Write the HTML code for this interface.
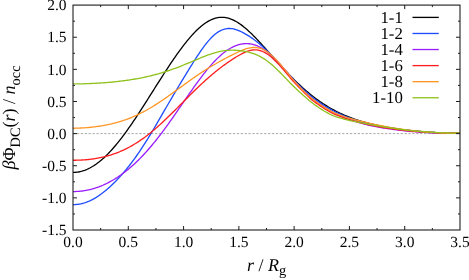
<!DOCTYPE html>
<html><head><meta charset="utf-8"><title>plot</title>
<style>html,body{margin:0;padding:0;background:#fff;overflow:hidden}svg{display:block}text{font-family:"Liberation Serif",serif;fill:#000;text-rendering:geometricPrecision}.i{font-style:italic}</style></head><body>
<svg width="469" height="280" viewBox="0 0 469 280">
<rect x="0" y="0" width="469" height="280" fill="#fff"/>
<defs><filter id="soft" x="0" y="0" width="469" height="280" filterUnits="userSpaceOnUse"><feGaussianBlur stdDeviation="0.3"/></filter></defs>
<g filter="url(#soft)">
<line x1="73.0" y1="133.61" x2="460.0" y2="133.61" stroke="#a8a8a8" stroke-width="1" stroke-dasharray="2.3 1.6"/>
<g fill="none" stroke-width="1.32" stroke-linejoin="round" stroke-linecap="butt">
<path d="M73.00,172.38 L74.29,172.36 L75.59,172.28 L76.88,172.16 L78.18,171.98 L79.47,171.74 L80.77,171.46 L82.06,171.12 L83.35,170.73 L84.65,170.28 L85.94,169.79 L87.24,169.24 L88.53,168.64 L89.83,167.99 L91.12,167.29 L92.41,166.55 L93.71,165.75 L95.00,164.90 L96.30,164.00 L97.59,163.06 L98.89,162.07 L100.18,161.03 L101.47,159.94 L102.77,158.82 L104.06,157.64 L105.36,156.43 L106.65,155.17 L107.95,153.87 L109.24,152.53 L110.54,151.15 L111.83,149.73 L113.12,148.27 L114.42,146.78 L115.71,145.25 L117.01,143.68 L118.30,142.09 L119.60,140.46 L120.89,138.79 L122.18,137.10 L123.48,135.38 L124.77,133.63 L126.07,131.86 L127.36,130.06 L128.66,128.23 L129.95,126.38 L131.24,124.51 L132.54,122.62 L133.83,120.71 L135.13,118.78 L136.42,116.83 L137.72,114.87 L139.01,112.89 L140.30,110.90 L141.60,108.90 L142.89,106.88 L144.19,104.86 L145.48,102.83 L146.78,100.80 L148.07,98.75 L149.36,96.71 L150.66,94.66 L151.95,92.60 L153.25,90.55 L154.54,88.50 L155.84,86.45 L157.13,84.40 L158.42,82.36 L159.72,80.32 L161.01,78.29 L162.31,76.27 L163.60,74.26 L164.90,72.26 L166.19,70.27 L167.48,68.29 L168.78,66.33 L170.07,64.39 L171.37,62.46 L172.66,60.55 L173.96,58.66 L175.25,56.79 L176.55,54.95 L177.84,53.13 L179.13,51.33 L180.43,49.57 L181.72,47.83 L183.02,46.12 L184.31,44.44 L185.61,42.80 L186.90,41.19 L188.19,39.62 L189.49,38.08 L190.78,36.59 L192.08,35.14 L193.37,33.73 L194.67,32.37 L195.96,31.05 L197.25,29.78 L198.55,28.57 L199.84,27.41 L201.14,26.30 L202.43,25.25 L203.73,24.25 L205.02,23.32 L206.31,22.45 L207.61,21.64 L208.90,20.90 L210.20,20.23 L211.49,19.62 L212.79,19.08 L214.08,18.61 L215.37,18.21 L216.67,17.89 L217.96,17.63 L219.26,17.45 L220.55,17.34 L221.85,17.31 L223.14,17.34 L224.43,17.45 L225.73,17.64 L227.02,17.89 L228.32,18.21 L229.61,18.60 L230.91,19.05 L232.20,19.58 L233.49,20.16 L234.79,20.81 L236.08,21.52 L237.38,22.28 L238.67,23.10 L239.97,23.98 L241.26,24.90 L242.56,25.88 L243.85,26.90 L245.14,27.96 L246.44,29.07 L247.73,30.21 L249.03,31.39 L250.32,32.61 L251.62,33.85 L252.91,35.13 L254.20,36.43 L255.50,37.76 L256.79,39.10 L258.09,40.47 L259.38,41.86 L260.68,43.26 L261.97,44.67 L263.26,46.09 L264.56,47.53 L265.85,48.97 L267.15,50.42 L268.44,51.87 L269.74,53.33 L271.03,54.78 L272.32,56.24 L273.62,57.69 L274.91,59.15 L276.21,60.59 L277.50,62.04 L278.80,63.47 L280.09,64.90 L281.38,66.32 L282.68,67.73 L283.97,69.13 L285.27,70.51 L286.56,71.89 L287.86,73.25 L289.15,74.60 L290.44,75.94 L291.74,77.25 L293.03,78.56 L294.33,79.85 L295.62,81.12 L296.92,82.37 L298.21,83.61 L299.51,84.82 L300.80,86.02 L302.09,87.21 L303.39,88.37 L304.68,89.51 L305.98,90.63 L307.27,91.74 L308.57,92.82 L309.86,93.89 L311.15,94.93 L312.45,95.96 L313.74,96.96 L315.04,97.95 L316.33,98.92 L317.63,99.86 L318.92,100.79 L320.21,101.69 L321.51,102.58 L322.80,103.44 L324.10,104.29 L325.39,105.12 L326.69,105.93 L327.98,106.71 L329.27,107.48 L330.57,108.24 L331.86,108.97 L333.16,109.68 L334.45,110.38 L335.75,111.06 L337.04,111.72 L338.33,112.37 L339.63,112.99 L340.92,113.61 L342.22,114.20 L343.51,114.78 L344.81,115.34 L346.10,115.89 L347.39,116.42 L348.69,116.94 L349.98,117.45 L351.28,117.94 L352.57,118.41 L353.87,118.88 L355.16,119.33 L356.45,119.77 L357.75,120.19 L359.04,120.61 L360.34,121.01 L361.63,121.40 L362.93,121.78 L364.22,122.15 L365.52,122.51 L366.81,122.86 L368.10,123.20 L369.40,123.53 L370.69,123.86 L371.99,124.17 L373.28,124.48 L374.58,124.77 L375.87,125.06 L377.16,125.35 L378.46,125.62 L379.75,125.89 L381.05,126.15 L382.34,126.41 L383.64,126.65 L384.93,126.89 L386.22,127.13 L387.52,127.36 L388.81,127.58 L390.11,127.80 L391.40,128.02 L392.70,128.22 L393.99,128.43 L395.28,128.62 L396.58,128.82 L397.87,129.00 L399.17,129.19 L400.46,129.36 L401.76,129.54 L403.05,129.71 L404.34,129.87 L405.64,130.03 L406.93,130.19 L408.23,130.34 L409.52,130.49 L410.82,130.63 L412.11,130.77 L413.40,130.90 L414.70,131.03 L415.99,131.16 L417.29,131.28 L418.58,131.40 L419.88,131.51 L421.17,131.62 L422.46,131.73 L423.76,131.83 L425.05,131.93 L426.35,132.02 L427.64,132.11 L428.94,132.20 L430.23,132.29 L431.53,132.36 L432.82,132.44 L434.11,132.51 L435.41,132.58 L436.70,132.65 L438.00,132.71 L439.29,132.77 L440.59,132.82 L441.88,132.87 L443.17,132.92 L444.47,132.97 L445.76,133.01 L447.06,133.05 L448.35,133.08 L449.65,133.11 L450.94,133.14 L452.23,133.17 L453.53,133.20 L454.82,133.22 L456.12,133.24 L457.41,133.25 L458.71,133.27 L460.00,133.28" stroke="#000000"/>
<path d="M73.00,204.55 L74.29,204.54 L75.59,204.48 L76.88,204.38 L78.18,204.23 L79.47,204.04 L80.77,203.80 L82.06,203.51 L83.35,203.17 L84.65,202.79 L85.94,202.37 L87.24,201.89 L88.53,201.37 L89.83,200.81 L91.12,200.20 L92.41,199.55 L93.71,198.85 L95.00,198.12 L96.30,197.34 L97.59,196.51 L98.89,195.65 L100.18,194.75 L101.47,193.82 L102.77,192.84 L104.06,191.83 L105.36,190.78 L106.65,189.70 L107.95,188.58 L109.24,187.43 L110.54,186.25 L111.83,185.04 L113.12,183.79 L114.42,182.51 L115.71,181.20 L117.01,179.86 L118.30,178.49 L119.60,177.08 L120.89,175.65 L122.18,174.19 L123.48,172.69 L124.77,171.16 L126.07,169.61 L127.36,168.02 L128.66,166.40 L129.95,164.74 L131.24,163.06 L132.54,161.34 L133.83,159.60 L135.13,157.81 L136.42,156.00 L137.72,154.16 L139.01,152.28 L140.30,150.37 L141.60,148.43 L142.89,146.46 L144.19,144.46 L145.48,142.43 L146.78,140.38 L148.07,138.29 L149.36,136.18 L150.66,134.05 L151.95,131.90 L153.25,129.73 L154.54,127.54 L155.84,125.34 L157.13,123.12 L158.42,120.90 L159.72,118.66 L161.01,116.43 L162.31,114.19 L163.60,111.94 L164.90,109.70 L166.19,107.47 L167.48,105.24 L168.78,103.01 L170.07,100.79 L171.37,98.58 L172.66,96.38 L173.96,94.18 L175.25,91.99 L176.55,89.82 L177.84,87.65 L179.13,85.48 L180.43,83.33 L181.72,81.18 L183.02,79.04 L184.31,76.91 L185.61,74.79 L186.90,72.67 L188.19,70.57 L189.49,68.47 L190.78,66.39 L192.08,64.32 L193.37,62.27 L194.67,60.23 L195.96,58.22 L197.25,56.23 L198.55,54.28 L199.84,52.36 L201.14,50.47 L202.43,48.64 L203.73,46.85 L205.02,45.13 L206.31,43.46 L207.61,41.87 L208.90,40.35 L210.20,38.90 L211.49,37.54 L212.79,36.27 L214.08,35.08 L215.37,33.99 L216.67,33.00 L217.96,32.10 L219.26,31.30 L220.55,30.60 L221.85,30.00 L223.14,29.51 L224.43,29.11 L225.73,28.81 L227.02,28.61 L228.32,28.50 L229.61,28.49 L230.91,28.56 L232.20,28.72 L233.49,28.95 L234.79,29.26 L236.08,29.64 L237.38,30.09 L238.67,30.59 L239.97,31.15 L241.26,31.75 L242.56,32.40 L243.85,33.09 L245.14,33.81 L246.44,34.57 L247.73,35.35 L249.03,36.17 L250.32,37.01 L251.62,37.88 L252.91,38.79 L254.20,39.72 L255.50,40.69 L256.79,41.69 L258.09,42.73 L259.38,43.81 L260.68,44.92 L261.97,46.06 L263.26,47.24 L264.56,48.45 L265.85,49.69 L267.15,50.97 L268.44,52.27 L269.74,53.59 L271.03,54.94 L272.32,56.31 L273.62,57.70 L274.91,59.11 L276.21,60.52 L277.50,61.95 L278.80,63.38 L280.09,64.82 L281.38,66.26 L282.68,67.70 L283.97,69.14 L285.27,70.57 L286.56,72.00 L287.86,73.44 L289.15,74.86 L290.44,76.28 L291.74,77.69 L293.03,79.08 L294.33,80.46 L295.62,81.81 L296.92,83.15 L298.21,84.45 L299.51,85.74 L300.80,87.00 L302.09,88.24 L303.39,89.45 L304.68,90.65 L305.98,91.82 L307.27,92.97 L308.57,94.09 L309.86,95.18 L311.15,96.23 L312.45,97.26 L313.74,98.26 L315.04,99.25 L316.33,100.21 L317.63,101.15 L318.92,102.07 L320.21,102.96 L321.51,103.84 L322.80,104.70 L324.10,105.53 L325.39,106.35 L326.69,107.15 L327.98,107.92 L329.27,108.68 L330.57,109.41 L331.86,110.11 L333.16,110.79 L334.45,111.44 L335.75,112.07 L337.04,112.68 L338.33,113.28 L339.63,113.86 L340.92,114.43 L342.22,114.99 L343.51,115.53 L344.81,116.06 L346.10,116.58 L347.39,117.08 L348.69,117.57 L349.98,118.04 L351.28,118.50 L352.57,118.95 L353.87,119.39 L355.16,119.82 L356.45,120.23 L357.75,120.63 L359.04,121.03 L360.34,121.41 L361.63,121.78 L362.93,122.14 L364.22,122.49 L365.52,122.83 L366.81,123.17 L368.10,123.50 L369.40,123.81 L370.69,124.12 L371.99,124.42 L373.28,124.71 L374.58,125.00 L375.87,125.28 L377.16,125.55 L378.46,125.81 L379.75,126.07 L381.05,126.32 L382.34,126.56 L383.64,126.80 L384.93,127.04 L386.22,127.26 L387.52,127.48 L388.81,127.70 L390.11,127.91 L391.40,128.12 L392.70,128.32 L393.99,128.52 L395.28,128.71 L396.58,128.89 L397.87,129.07 L399.17,129.25 L400.46,129.42 L401.76,129.59 L403.05,129.75 L404.34,129.91 L405.64,130.06 L406.93,130.21 L408.23,130.36 L409.52,130.50 L410.82,130.64 L412.11,130.78 L413.40,130.91 L414.70,131.04 L415.99,131.16 L417.29,131.28 L418.58,131.40 L419.88,131.51 L421.17,131.62 L422.46,131.73 L423.76,131.83 L425.05,131.93 L426.35,132.02 L427.64,132.11 L428.94,132.20 L430.23,132.29 L431.53,132.36 L432.82,132.44 L434.11,132.51 L435.41,132.58 L436.70,132.65 L438.00,132.71 L439.29,132.77 L440.59,132.82 L441.88,132.87 L443.17,132.92 L444.47,132.97 L445.76,133.01 L447.06,133.05 L448.35,133.08 L449.65,133.11 L450.94,133.14 L452.23,133.17 L453.53,133.20 L454.82,133.22 L456.12,133.24 L457.41,133.25 L458.71,133.27 L460.00,133.28" stroke="#1f4dff"/>
<path d="M73.00,191.55 L74.29,191.55 L75.59,191.52 L76.88,191.46 L78.18,191.38 L79.47,191.28 L80.77,191.15 L82.06,191.00 L83.35,190.83 L84.65,190.63 L85.94,190.41 L87.24,190.16 L88.53,189.89 L89.83,189.59 L91.12,189.27 L92.41,188.92 L93.71,188.55 L95.00,188.16 L96.30,187.74 L97.59,187.29 L98.89,186.82 L100.18,186.32 L101.47,185.80 L102.77,185.26 L104.06,184.69 L105.36,184.09 L106.65,183.47 L107.95,182.82 L109.24,182.15 L110.54,181.45 L111.83,180.72 L113.12,179.97 L114.42,179.20 L115.71,178.39 L117.01,177.57 L118.30,176.71 L119.60,175.83 L120.89,174.92 L122.18,173.99 L123.48,173.03 L124.77,172.04 L126.07,171.03 L127.36,169.99 L128.66,168.92 L129.95,167.83 L131.24,166.71 L132.54,165.57 L133.83,164.39 L135.13,163.19 L136.42,161.97 L137.72,160.71 L139.01,159.43 L140.30,158.13 L141.60,156.80 L142.89,155.44 L144.19,154.05 L145.48,152.64 L146.78,151.21 L148.07,149.75 L149.36,148.26 L150.66,146.75 L151.95,145.21 L153.25,143.65 L154.54,142.07 L155.84,140.47 L157.13,138.84 L158.42,137.19 L159.72,135.52 L161.01,133.83 L162.31,132.11 L163.60,130.38 L164.90,128.64 L166.19,126.87 L167.48,125.09 L168.78,123.29 L170.07,121.48 L171.37,119.65 L172.66,117.82 L173.96,115.97 L175.25,114.11 L176.55,112.24 L177.84,110.37 L179.13,108.49 L180.43,106.61 L181.72,104.73 L183.02,102.84 L184.31,100.96 L185.61,99.08 L186.90,97.20 L188.19,95.33 L189.49,93.46 L190.78,91.61 L192.08,89.76 L193.37,87.93 L194.67,86.12 L195.96,84.32 L197.25,82.53 L198.55,80.77 L199.84,79.03 L201.14,77.31 L202.43,75.62 L203.73,73.95 L205.02,72.31 L206.31,70.70 L207.61,69.13 L208.90,67.58 L210.20,66.08 L211.49,64.61 L212.79,63.18 L214.08,61.79 L215.37,60.44 L216.67,59.13 L217.96,57.87 L219.26,56.65 L220.55,55.48 L221.85,54.36 L223.14,53.29 L224.43,52.27 L225.73,51.31 L227.02,50.39 L228.32,49.54 L229.61,48.73 L230.91,47.99 L232.20,47.29 L233.49,46.66 L234.79,46.09 L236.08,45.57 L237.38,45.12 L238.67,44.72 L239.97,44.39 L241.26,44.11 L242.56,43.90 L243.85,43.75 L245.14,43.66 L246.44,43.63 L247.73,43.67 L249.03,43.77 L250.32,43.93 L251.62,44.16 L252.91,44.45 L254.20,44.80 L255.50,45.22 L256.79,45.70 L258.09,46.25 L259.38,46.86 L260.68,47.54 L261.97,48.27 L263.26,49.07 L264.56,49.93 L265.85,50.85 L267.15,51.83 L268.44,52.87 L269.74,53.96 L271.03,55.10 L272.32,56.29 L273.62,57.53 L274.91,58.81 L276.21,60.13 L277.50,61.49 L278.80,62.88 L280.09,64.30 L281.38,65.74 L282.68,67.21 L283.97,68.70 L285.27,70.20 L286.56,71.73 L287.86,73.28 L289.15,74.85 L290.44,76.42 L291.74,77.98 L293.03,79.53 L294.33,81.05 L295.62,82.54 L296.92,83.99 L298.21,85.40 L299.51,86.77 L300.80,88.12 L302.09,89.45 L303.39,90.76 L304.68,92.04 L305.98,93.29 L307.27,94.50 L308.57,95.67 L309.86,96.80 L311.15,97.88 L312.45,98.91 L313.74,99.91 L315.04,100.90 L316.33,101.86 L317.63,102.80 L318.92,103.73 L320.21,104.63 L321.51,105.51 L322.80,106.37 L324.10,107.21 L325.39,108.04 L326.69,108.84 L327.98,109.62 L329.27,110.38 L330.57,111.11 L331.86,111.81 L333.16,112.48 L334.45,113.12 L335.75,113.73 L337.04,114.33 L338.33,114.91 L339.63,115.48 L340.92,116.03 L342.22,116.58 L343.51,117.12 L344.81,117.63 L346.10,118.14 L347.39,118.63 L348.69,119.10 L349.98,119.57 L351.28,120.02 L352.57,120.46 L353.87,120.89 L355.16,121.32 L356.45,121.73 L357.75,122.14 L359.04,122.53 L360.34,122.92 L361.63,123.29 L362.93,123.65 L364.22,124.01 L365.52,124.35 L366.81,124.67 L368.10,124.99 L369.40,125.29 L370.69,125.58 L371.99,125.86 L373.28,126.13 L374.58,126.39 L375.87,126.64 L377.16,126.88 L378.46,127.11 L379.75,127.34 L381.05,127.56 L382.34,127.77 L383.64,127.98 L384.93,128.18 L386.22,128.38 L387.52,128.57 L388.81,128.76 L390.11,128.94 L391.40,129.12 L392.70,129.30 L393.99,129.48 L395.28,129.65 L396.58,129.81 L397.87,129.98 L399.17,130.13 L400.46,130.29 L401.76,130.44 L403.05,130.58 L404.34,130.72 L405.64,130.86 L406.93,130.99 L408.23,131.12 L409.52,131.25 L410.82,131.37 L412.11,131.49 L413.40,131.60 L414.70,131.71 L415.99,131.82 L417.29,131.92 L418.58,132.02 L419.88,132.11 L421.17,132.20 L422.46,132.29 L423.76,132.38 L425.05,132.46 L426.35,132.53 L427.64,132.60 L428.94,132.67 L430.23,132.74 L431.53,132.80 L432.82,132.86 L434.11,132.91 L435.41,132.96 L436.70,133.01 L438.00,133.06 L439.29,133.10 L440.59,133.14 L441.88,133.17 L443.17,133.20 L444.47,133.23 L445.76,133.26 L447.06,133.28 L448.35,133.30 L449.65,133.32 L450.94,133.34 L452.23,133.35 L453.53,133.36 L454.82,133.37 L456.12,133.38 L457.41,133.38 L458.71,133.38 L460.00,133.38" stroke="#9b1fff"/>
<path d="M73.00,160.24 L74.29,160.24 L75.59,160.23 L76.88,160.21 L78.18,160.17 L79.47,160.13 L80.77,160.07 L82.06,160.00 L83.35,159.92 L84.65,159.83 L85.94,159.72 L87.24,159.60 L88.53,159.47 L89.83,159.32 L91.12,159.17 L92.41,159.00 L93.71,158.81 L95.00,158.61 L96.30,158.40 L97.59,158.17 L98.89,157.93 L100.18,157.67 L101.47,157.39 L102.77,157.10 L104.06,156.80 L105.36,156.48 L106.65,156.14 L107.95,155.78 L109.24,155.41 L110.54,155.01 L111.83,154.60 L113.12,154.17 L114.42,153.73 L115.71,153.26 L117.01,152.77 L118.30,152.27 L119.60,151.74 L120.89,151.19 L122.18,150.63 L123.48,150.04 L124.77,149.43 L126.07,148.80 L127.36,148.14 L128.66,147.47 L129.95,146.77 L131.24,146.06 L132.54,145.32 L133.83,144.55 L135.13,143.77 L136.42,142.96 L137.72,142.14 L139.01,141.29 L140.30,140.41 L141.60,139.52 L142.89,138.60 L144.19,137.67 L145.48,136.71 L146.78,135.73 L148.07,134.73 L149.36,133.71 L150.66,132.67 L151.95,131.61 L153.25,130.53 L154.54,129.43 L155.84,128.32 L157.13,127.18 L158.42,126.04 L159.72,124.87 L161.01,123.69 L162.31,122.50 L163.60,121.29 L164.90,120.07 L166.19,118.84 L167.48,117.59 L168.78,116.34 L170.07,115.08 L171.37,113.81 L172.66,112.53 L173.96,111.24 L175.25,109.95 L176.55,108.65 L177.84,107.35 L179.13,106.05 L180.43,104.74 L181.72,103.44 L183.02,102.13 L184.31,100.83 L185.61,99.52 L186.90,98.22 L188.19,96.92 L189.49,95.63 L190.78,94.34 L192.08,93.06 L193.37,91.79 L194.67,90.52 L195.96,89.26 L197.25,88.02 L198.55,86.78 L199.84,85.55 L201.14,84.33 L202.43,83.13 L203.73,81.94 L205.02,80.76 L206.31,79.59 L207.61,78.44 L208.90,77.31 L210.20,76.18 L211.49,75.08 L212.79,73.99 L214.08,72.91 L215.37,71.85 L216.67,70.81 L217.96,69.78 L219.26,68.77 L220.55,67.77 L221.85,66.79 L223.14,65.83 L224.43,64.88 L225.73,63.95 L227.02,63.03 L228.32,62.12 L229.61,61.23 L230.91,60.36 L232.20,59.50 L233.49,58.66 L234.79,57.84 L236.08,57.04 L237.38,56.25 L238.67,55.50 L239.97,54.77 L241.26,54.07 L242.56,53.41 L243.85,52.79 L245.14,52.21 L246.44,51.68 L247.73,51.21 L249.03,50.80 L250.32,50.46 L251.62,50.19 L252.91,50.01 L254.20,49.90 L255.50,49.89 L256.79,49.96 L258.09,50.13 L259.38,50.39 L260.68,50.75 L261.97,51.20 L263.26,51.75 L264.56,52.39 L265.85,53.12 L267.15,53.93 L268.44,54.83 L269.74,55.80 L271.03,56.85 L272.32,57.97 L273.62,59.16 L274.91,60.40 L276.21,61.70 L277.50,63.04 L278.80,64.42 L280.09,65.84 L281.38,67.29 L282.68,68.76 L283.97,70.25 L285.27,71.77 L286.56,73.32 L287.86,74.88 L289.15,76.44 L290.44,77.98 L291.74,79.49 L293.03,80.97 L294.33,82.40 L295.62,83.80 L296.92,85.16 L298.21,86.48 L299.51,87.78 L300.80,89.09 L302.09,90.41 L303.39,91.75 L304.68,93.07 L305.98,94.37 L307.27,95.64 L308.57,96.86 L309.86,98.03 L311.15,99.13 L312.45,100.16 L313.74,101.16 L315.04,102.14 L316.33,103.10 L317.63,104.03 L318.92,104.95 L320.21,105.84 L321.51,106.71 L322.80,107.55 L324.10,108.38 L325.39,109.18 L326.69,109.97 L327.98,110.73 L329.27,111.47 L330.57,112.18 L331.86,112.84 L333.16,113.46 L334.45,114.05 L335.75,114.61 L337.04,115.15 L338.33,115.67 L339.63,116.17 L340.92,116.67 L342.22,117.16 L343.51,117.63 L344.81,118.09 L346.10,118.53 L347.39,118.95 L348.69,119.36 L349.98,119.76 L351.28,120.15 L352.57,120.54 L353.87,120.92 L355.16,121.29 L356.45,121.66 L357.75,122.01 L359.04,122.36 L360.34,122.70 L361.63,123.03 L362.93,123.36 L364.22,123.67 L365.52,123.98 L366.81,124.28 L368.10,124.58 L369.40,124.86 L370.69,125.14 L371.99,125.41 L373.28,125.67 L374.58,125.93 L375.87,126.17 L377.16,126.42 L378.46,126.65 L379.75,126.88 L381.05,127.10 L382.34,127.32 L383.64,127.54 L384.93,127.75 L386.22,127.95 L387.52,128.15 L388.81,128.34 L390.11,128.54 L391.40,128.72 L392.70,128.91 L393.99,129.08 L395.28,129.26 L396.58,129.43 L397.87,129.59 L399.17,129.75 L400.46,129.91 L401.76,130.06 L403.05,130.21 L404.34,130.36 L405.64,130.50 L406.93,130.64 L408.23,130.77 L409.52,130.90 L410.82,131.03 L412.11,131.15 L413.40,131.27 L414.70,131.38 L415.99,131.50 L417.29,131.60 L418.58,131.71 L419.88,131.81 L421.17,131.91 L422.46,132.01 L423.76,132.10 L425.05,132.18 L426.35,132.27 L427.64,132.35 L428.94,132.42 L430.23,132.50 L431.53,132.57 L432.82,132.63 L434.11,132.69 L435.41,132.75 L436.70,132.81 L438.00,132.86 L439.29,132.91 L440.59,132.96 L441.88,133.00 L443.17,133.04 L444.47,133.08 L445.76,133.11 L447.06,133.14 L448.35,133.17 L449.65,133.20 L450.94,133.22 L452.23,133.24 L453.53,133.26 L454.82,133.28 L456.12,133.30 L457.41,133.31 L458.71,133.32 L460.00,133.33" stroke="#ff1f1f"/>
<path d="M73.00,128.24 L74.29,128.23 L75.59,128.20 L76.88,128.17 L78.18,128.13 L79.47,128.08 L80.77,128.02 L82.06,127.95 L83.35,127.87 L84.65,127.79 L85.94,127.69 L87.24,127.59 L88.53,127.48 L89.83,127.36 L91.12,127.23 L92.41,127.09 L93.71,126.94 L95.00,126.79 L96.30,126.62 L97.59,126.44 L98.89,126.26 L100.18,126.06 L101.47,125.85 L102.77,125.63 L104.06,125.40 L105.36,125.16 L106.65,124.91 L107.95,124.64 L109.24,124.37 L110.54,124.08 L111.83,123.78 L113.12,123.46 L114.42,123.13 L115.71,122.79 L117.01,122.44 L118.30,122.07 L119.60,121.68 L120.89,121.28 L122.18,120.87 L123.48,120.44 L124.77,120.00 L126.07,119.54 L127.36,119.07 L128.66,118.58 L129.95,118.07 L131.24,117.55 L132.54,117.01 L133.83,116.45 L135.13,115.88 L136.42,115.29 L137.72,114.69 L139.01,114.07 L140.30,113.43 L141.60,112.78 L142.89,112.11 L144.19,111.42 L145.48,110.72 L146.78,110.00 L148.07,109.27 L149.36,108.52 L150.66,107.76 L151.95,106.99 L153.25,106.19 L154.54,105.39 L155.84,104.57 L157.13,103.74 L158.42,102.90 L159.72,102.05 L161.01,101.18 L162.31,100.31 L163.60,99.42 L164.90,98.53 L166.19,97.63 L167.48,96.72 L168.78,95.80 L170.07,94.88 L171.37,93.95 L172.66,93.02 L173.96,92.08 L175.25,91.14 L176.55,90.20 L177.84,89.25 L179.13,88.31 L180.43,87.36 L181.72,86.42 L183.02,85.48 L184.31,84.54 L185.61,83.60 L186.90,82.66 L188.19,81.73 L189.49,80.80 L190.78,79.88 L192.08,78.97 L193.37,78.06 L194.67,77.16 L195.96,76.26 L197.25,75.38 L198.55,74.50 L199.84,73.63 L201.14,72.77 L202.43,71.92 L203.73,71.08 L205.02,70.25 L206.31,69.43 L207.61,68.61 L208.90,67.81 L210.20,67.02 L211.49,66.24 L212.79,65.47 L214.08,64.71 L215.37,63.96 L216.67,63.22 L217.96,62.48 L219.26,61.76 L220.55,61.04 L221.85,60.33 L223.14,59.63 L224.43,58.93 L225.73,58.24 L227.02,57.56 L228.32,56.88 L229.61,56.21 L230.91,55.54 L232.20,54.88 L233.49,54.24 L234.79,53.60 L236.08,52.97 L237.38,52.36 L238.67,51.76 L239.97,51.19 L241.26,50.64 L242.56,50.11 L243.85,49.61 L245.14,49.16 L246.44,48.74 L247.73,48.37 L249.03,48.06 L250.32,47.80 L251.62,47.61 L252.91,47.49 L254.20,47.45 L255.50,47.48 L256.79,47.59 L258.09,47.80 L259.38,48.09 L260.68,48.47 L261.97,48.94 L263.26,49.50 L264.56,50.16 L265.85,50.90 L267.15,51.74 L268.44,52.66 L269.74,53.66 L271.03,54.74 L272.32,55.90 L273.62,57.12 L274.91,58.41 L276.21,59.75 L277.50,61.15 L278.80,62.58 L280.09,64.05 L281.38,65.55 L282.68,67.07 L283.97,68.61 L285.27,70.17 L286.56,71.74 L287.86,73.33 L289.15,74.93 L290.44,76.51 L291.74,78.07 L293.03,79.61 L294.33,81.12 L295.62,82.59 L296.92,84.03 L298.21,85.42 L299.51,86.78 L300.80,88.13 L302.09,89.45 L303.39,90.76 L304.68,92.04 L305.98,93.29 L307.27,94.50 L308.57,95.67 L309.86,96.80 L311.15,97.88 L312.45,98.91 L313.74,99.91 L315.04,100.89 L316.33,101.84 L317.63,102.78 L318.92,103.68 L320.21,104.57 L321.51,105.44 L322.80,106.28 L324.10,107.10 L325.39,107.90 L326.69,108.68 L327.98,109.44 L329.27,110.17 L330.57,110.88 L331.86,111.54 L333.16,112.18 L334.45,112.79 L335.75,113.37 L337.04,113.92 L338.33,114.46 L339.63,114.97 L340.92,115.47 L342.22,115.96 L343.51,116.42 L344.81,116.85 L346.10,117.26 L347.39,117.64 L348.69,118.02 L349.98,118.38 L351.28,118.73 L352.57,119.08 L353.87,119.43 L355.16,119.78 L356.45,120.11 L357.75,120.43 L359.04,120.74 L360.34,121.04 L361.63,121.34 L362.93,121.64 L364.22,121.94 L365.52,122.25 L366.81,122.57 L368.10,122.90 L369.40,123.22 L370.69,123.53 L371.99,123.84 L373.28,124.13 L374.58,124.42 L375.87,124.71 L377.16,124.98 L378.46,125.25 L379.75,125.51 L381.05,125.77 L382.34,126.02 L383.64,126.26 L384.93,126.50 L386.22,126.74 L387.52,126.96 L388.81,127.19 L390.11,127.40 L391.40,127.62 L392.70,127.82 L393.99,128.03 L395.28,128.23 L396.58,128.43 L397.87,128.62 L399.17,128.81 L400.46,129.00 L401.76,129.18 L403.05,129.36 L404.34,129.54 L405.64,129.71 L406.93,129.88 L408.23,130.04 L409.52,130.20 L410.82,130.35 L412.11,130.50 L413.40,130.65 L414.70,130.79 L415.99,130.93 L417.29,131.06 L418.58,131.19 L419.88,131.31 L421.17,131.43 L422.46,131.54 L423.76,131.65 L425.05,131.76 L426.35,131.86 L427.64,131.96 L428.94,132.05 L430.23,132.14 L431.53,132.23 L432.82,132.31 L434.11,132.39 L435.41,132.47 L436.70,132.54 L438.00,132.61 L439.29,132.67 L440.59,132.73 L441.88,132.79 L443.17,132.85 L444.47,132.90 L445.76,132.95 L447.06,132.99 L448.35,133.03 L449.65,133.07 L450.94,133.11 L452.23,133.14 L453.53,133.17 L454.82,133.20 L456.12,133.22 L457.41,133.24 L458.71,133.27 L460.00,133.28" stroke="#ff9626"/>
<path d="M73.00,83.92 L74.29,83.92 L75.59,83.91 L76.88,83.90 L78.18,83.89 L79.47,83.87 L80.77,83.84 L82.06,83.82 L83.35,83.79 L84.65,83.75 L85.94,83.71 L87.24,83.67 L88.53,83.62 L89.83,83.57 L91.12,83.52 L92.41,83.46 L93.71,83.40 L95.00,83.33 L96.30,83.26 L97.59,83.19 L98.89,83.11 L100.18,83.03 L101.47,82.94 L102.77,82.85 L104.06,82.76 L105.36,82.66 L106.65,82.55 L107.95,82.45 L109.24,82.33 L110.54,82.22 L111.83,82.09 L113.12,81.97 L114.42,81.84 L115.71,81.70 L117.01,81.56 L118.30,81.41 L119.60,81.26 L120.89,81.11 L122.18,80.94 L123.48,80.78 L124.77,80.61 L126.07,80.43 L127.36,80.24 L128.66,80.05 L129.95,79.86 L131.24,79.66 L132.54,79.45 L133.83,79.24 L135.13,79.01 L136.42,78.79 L137.72,78.55 L139.01,78.31 L140.30,78.07 L141.60,77.81 L142.89,77.55 L144.19,77.28 L145.48,77.00 L146.78,76.72 L148.07,76.43 L149.36,76.13 L150.66,75.82 L151.95,75.50 L153.25,75.17 L154.54,74.84 L155.84,74.50 L157.13,74.14 L158.42,73.78 L159.72,73.41 L161.01,73.03 L162.31,72.64 L163.60,72.25 L164.90,71.84 L166.19,71.42 L167.48,71.00 L168.78,70.57 L170.07,70.12 L171.37,69.67 L172.66,69.21 L173.96,68.74 L175.25,68.27 L176.55,67.78 L177.84,67.29 L179.13,66.79 L180.43,66.29 L181.72,65.77 L183.02,65.25 L184.31,64.73 L185.61,64.20 L186.90,63.67 L188.19,63.13 L189.49,62.59 L190.78,62.04 L192.08,61.50 L193.37,60.95 L194.67,60.41 L195.96,59.86 L197.25,59.32 L198.55,58.78 L199.84,58.24 L201.14,57.71 L202.43,57.19 L203.73,56.67 L205.02,56.17 L206.31,55.67 L207.61,55.19 L208.90,54.72 L210.20,54.26 L211.49,53.83 L212.79,53.41 L214.08,53.01 L215.37,52.63 L216.67,52.28 L217.96,51.95 L219.26,51.64 L220.55,51.37 L221.85,51.12 L223.14,50.90 L224.43,50.71 L225.73,50.55 L227.02,50.42 L228.32,50.32 L229.61,50.25 L230.91,50.21 L232.20,50.20 L233.49,50.21 L234.79,50.25 L236.08,50.31 L237.38,50.40 L238.67,50.52 L239.97,50.65 L241.26,50.81 L242.56,50.99 L243.85,51.20 L245.14,51.43 L246.44,51.69 L247.73,51.98 L249.03,52.29 L250.32,52.64 L251.62,53.02 L252.91,53.44 L254.20,53.90 L255.50,54.40 L256.79,54.94 L258.09,55.52 L259.38,56.15 L260.68,56.83 L261.97,57.55 L263.26,58.33 L264.56,59.15 L265.85,60.03 L267.15,60.95 L268.44,61.93 L269.74,62.95 L271.03,64.02 L272.32,65.12 L273.62,66.27 L274.91,67.46 L276.21,68.68 L277.50,69.93 L278.80,71.20 L280.09,72.49 L281.38,73.80 L282.68,75.12 L283.97,76.44 L285.27,77.79 L286.56,79.15 L287.86,80.52 L289.15,81.88 L290.44,83.22 L291.74,84.53 L293.03,85.81 L294.33,87.07 L295.62,88.30 L296.92,89.51 L298.21,90.72 L299.51,91.92 L300.80,93.11 L302.09,94.29 L303.39,95.45 L304.68,96.59 L305.98,97.71 L307.27,98.81 L308.57,99.89 L309.86,100.95 L311.15,101.99 L312.45,103.00 L313.74,103.99 L315.04,104.95 L316.33,105.89 L317.63,106.80 L318.92,107.68 L320.21,108.54 L321.51,109.37 L322.80,110.18 L324.10,110.96 L325.39,111.72 L326.69,112.45 L327.98,113.17 L329.27,113.86 L330.57,114.49 L331.86,115.08 L333.16,115.62 L334.45,116.12 L335.75,116.58 L337.04,117.02 L338.33,117.43 L339.63,117.84 L340.92,118.23 L342.22,118.62 L343.51,118.99 L344.81,119.33 L346.10,119.66 L347.39,119.97 L348.69,120.26 L349.98,120.54 L351.28,120.82 L352.57,121.09 L353.87,121.37 L355.16,121.64 L356.45,121.90 L357.75,122.14 L359.04,122.38 L360.34,122.61 L361.63,122.84 L362.93,123.07 L364.22,123.31 L365.52,123.55 L366.81,123.80 L368.10,124.06 L369.40,124.32 L370.69,124.57 L371.99,124.81 L373.28,125.05 L374.58,125.28 L375.87,125.51 L377.16,125.74 L378.46,125.96 L379.75,126.17 L381.05,126.38 L382.34,126.59 L383.64,126.80 L384.93,127.01 L386.22,127.21 L387.52,127.41 L388.81,127.62 L390.11,127.82 L391.40,128.02 L392.70,128.22 L393.99,128.41 L395.28,128.60 L396.58,128.79 L397.87,128.97 L399.17,129.14 L400.46,129.31 L401.76,129.48 L403.05,129.64 L404.34,129.80 L405.64,129.96 L406.93,130.11 L408.23,130.26 L409.52,130.40 L410.82,130.54 L412.11,130.67 L413.40,130.81 L414.70,130.93 L415.99,131.06 L417.29,131.18 L418.58,131.30 L419.88,131.41 L421.17,131.52 L422.46,131.63 L423.76,131.73 L425.05,131.83 L426.35,131.93 L427.64,132.02 L428.94,132.11 L430.23,132.19 L431.53,132.27 L432.82,132.35 L434.11,132.42 L435.41,132.49 L436.70,132.56 L438.00,132.62 L439.29,132.68 L440.59,132.74 L441.88,132.80 L443.17,132.85 L444.47,132.90 L445.76,132.94 L447.06,132.99 L448.35,133.03 L449.65,133.06 L450.94,133.10 L452.23,133.13 L453.53,133.16 L454.82,133.19 L456.12,133.22 L457.41,133.24 L458.71,133.26 L460.00,133.28" stroke="#8fc31f"/>
</g>
<path d="M100.64,230.0 v-2.0 M100.64,5.1 v2.0 M128.29,230.0 v-4.0 M128.29,5.1 v4.0 M155.93,230.0 v-2.0 M155.93,5.1 v2.0 M183.57,230.0 v-4.0 M183.57,5.1 v4.0 M211.21,230.0 v-2.0 M211.21,5.1 v2.0 M238.86,230.0 v-4.0 M238.86,5.1 v4.0 M266.50,230.0 v-2.0 M266.50,5.1 v2.0 M294.14,230.0 v-4.0 M294.14,5.1 v4.0 M321.79,230.0 v-2.0 M321.79,5.1 v2.0 M349.43,230.0 v-4.0 M349.43,5.1 v4.0 M377.07,230.0 v-2.0 M377.07,5.1 v2.0 M404.71,230.0 v-4.0 M404.71,5.1 v4.0 M432.36,230.0 v-2.0 M432.36,5.1 v2.0 M73.0,213.94 h2.0 M460.0,213.94 h-2.0 M73.0,197.87 h4.0 M460.0,197.87 h-4.0 M73.0,181.81 h2.0 M460.0,181.81 h-2.0 M73.0,165.74 h4.0 M460.0,165.74 h-4.0 M73.0,149.68 h2.0 M460.0,149.68 h-2.0 M73.0,133.61 h4.0 M460.0,133.61 h-4.0 M73.0,117.55 h2.0 M460.0,117.55 h-2.0 M73.0,101.49 h4.0 M460.0,101.49 h-4.0 M73.0,85.42 h2.0 M460.0,85.42 h-2.0 M73.0,69.36 h4.0 M460.0,69.36 h-4.0 M73.0,53.29 h2.0 M460.0,53.29 h-2.0 M73.0,37.23 h4.0 M460.0,37.23 h-4.0 M73.0,21.16 h2.0 M460.0,21.16 h-2.0" stroke="#1c1c1c" stroke-width="1" fill="none"/>
<rect x="73.0" y="5.1" width="387.0" height="224.9" fill="none" stroke="#1c1c1c" stroke-width="1.1"/>
<g font-size="15.5">
<text x="66.6" y="235.20" text-anchor="end">-1.5</text>
<text x="66.6" y="203.07" text-anchor="end">-1.0</text>
<text x="66.6" y="170.94" text-anchor="end">-0.5</text>
<text x="66.6" y="138.81" text-anchor="end">0.0</text>
<text x="66.6" y="106.69" text-anchor="end">0.5</text>
<text x="66.6" y="74.56" text-anchor="end">1.0</text>
<text x="66.6" y="42.43" text-anchor="end">1.5</text>
<text x="66.6" y="10.30" text-anchor="end">2.0</text>
<text x="73.00" y="246.5" text-anchor="middle">0.0</text>
<text x="128.29" y="246.5" text-anchor="middle">0.5</text>
<text x="183.57" y="246.5" text-anchor="middle">1.0</text>
<text x="238.86" y="246.5" text-anchor="middle">1.5</text>
<text x="294.14" y="246.5" text-anchor="middle">2.0</text>
<text x="349.43" y="246.5" text-anchor="middle">2.5</text>
<text x="404.71" y="246.5" text-anchor="middle">3.0</text>
<text x="460.00" y="246.5" text-anchor="middle">3.5</text>
</g>
<g font-size="16.8">
<text x="402.8" y="23.00" text-anchor="end">1-1</text>
<line x1="412.5" y1="17.40" x2="438.8" y2="17.40" stroke="#000000" stroke-width="1.32"/>
<text x="402.8" y="39.07" text-anchor="end">1-2</text>
<line x1="412.5" y1="33.47" x2="438.8" y2="33.47" stroke="#1f4dff" stroke-width="1.32"/>
<text x="402.8" y="55.14" text-anchor="end">1-4</text>
<line x1="412.5" y1="49.54" x2="438.8" y2="49.54" stroke="#9b1fff" stroke-width="1.32"/>
<text x="402.8" y="71.21" text-anchor="end">1-6</text>
<line x1="412.5" y1="65.61" x2="438.8" y2="65.61" stroke="#ff1f1f" stroke-width="1.32"/>
<text x="402.8" y="87.28" text-anchor="end">1-8</text>
<line x1="412.5" y1="81.68" x2="438.8" y2="81.68" stroke="#ff9626" stroke-width="1.32"/>
<text x="402.8" y="103.35" text-anchor="end">1-10</text>
<line x1="412.5" y1="97.75" x2="438.8" y2="97.75" stroke="#8fc31f" stroke-width="1.32"/>
</g>
<text x="266.5" y="270.5" font-size="18" text-anchor="middle"><tspan class="i">r</tspan> / <tspan class="i">R</tspan><tspan font-size="14.4" dy="4.9">g</tspan></text>
<text transform="translate(14.8,117.5) rotate(-90)" font-size="18" text-anchor="middle"><tspan class="i">β</tspan>Φ<tspan font-size="14.4" dy="4.9">DC</tspan><tspan dy="-4.9">(</tspan><tspan class="i">r</tspan>) / <tspan class="i">n</tspan><tspan font-size="14.4" dy="4.9">occ</tspan></text>
</g>
</svg></body></html>
